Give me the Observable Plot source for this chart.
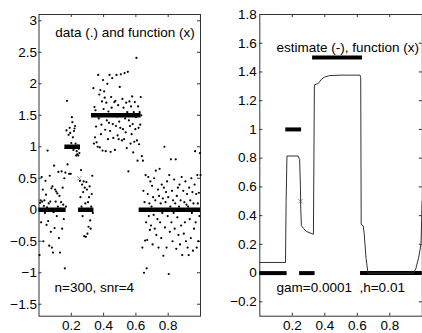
<!DOCTYPE html>
<html>
<head>
<meta charset="utf-8">
<script src="https://cdn.jsdelivr.net/npm/d3@7"></script>
<script src="https://cdn.jsdelivr.net/npm/@observablehq/plot@0.6"></script>
<style>
  html, body { margin: 0; padding: 0; background: white; overflow: hidden; width: 422px; height: 333px; }
  #left, #right { position: absolute; top: 0; }
  #left { left: 0; }
  #right { left: 211px; }
  svg { max-width: none !important; }
</style>
</head>
<body>
<div id="left"></div>
<div id="right"></div>
<script>
// ---- data ----
const n = 300;
// noisy observations, in order of x = i/300
const segA = [-0.72, 0.11, 0.15, -0.2, 0.52, 0.13, 0.32, -0.5, 0.06, 0.15, -0.05, 0.46,
  0.24, -0.24, 0.04, 0.94, -0.18, 0.1, -0.57, 0.54, 0.13, -0.35, 0.34, -0.6,
  0.37, -0.68, -0.04, 0.7, -0.29, 0.32, 0.13, 0.29, -0.1, 0.26, 0.05, 0.6,
  -0.45, 0.22, -0.68, 0.02, 0.12, 0.61, -0.3, 0.35, 0.08, -0.15, 0.5, -0.93, 0.59, 0.05];
const segB = [1.26, 1.73, 0.72, 1.0, 1.19, 0.57, 1.3, 1.22, 0.57, 1.06, 1.47, 1.39, 1.15,
  0.95, 1.25, 1.29, 1.33, 1.05, 0.86, 0.93, 0.88, 1.02, 0.86, 0.97, 0.9];
const segC = [0.46, 0.2, 0.63, 0.05, 0.4, -0.1, 0.28, 0.45, -0.42, 0.35, 0.1, -0.43, 0.44,
  0.32, -0.38, 0.12, -0.27, 0.2, 0.37, -0.17, -0.3, 0.05, 0.25, 0.54, -0.05];
const segD = [1.93, 1.05, 1.63, 1.15, 1.58, 1.32, 1.07, 1.5, 1.0, 2.14,
  1.45, 1.83, 0.99, 1.9, 1.2, 1.35, 1.72, 0.94, 2.06, 1.6,
  1.88, 1.78, 1.27, 0.93, 1.7, 1.42, 2.0, 1.12, 1.56, 1.38,
  2.14, 1.25, 0.92, 1.79, 1.62, 2.09, 1.36, 1.14, 1.5, 1.71,
  0.95, 1.73, 1.33, 2.14, 1.48, 1.18, 1.66, 1.12, 1.4, 1.95,
  1.3, 2.15, 1.52, 1.1, 1.76, 1.28, 1.62, 1.12, 2.17, 1.45,
  1.23, 1.7, 0.98, 1.55, 2.19, 0.61, 1.42, 1.72, 1.33, 1.05,
  1.64, 1.2, 1.8, 1.36, 0.91, 1.55, 1.08, 1.71, 1.28, 1.47,
  2.41, 1.1, 0.78, 1.64, 1.3, 1.04, 1.55, 1.35, 1.79, 1.5];
const segE = [0.85, -0.6, 0.78, 0.3, -1.0, 0.12, -0.49, 0.55, -0.2, -0.93,
  -0.48, 0.25, 0.52, -0.1, 0.1, -0.32, 0.45, -0.25, 0.05, 0.38,
  -0.55, 0.2, -0.08, 0.5, -0.3, 0.15, 0.62, -0.4, 0.0, -0.15,
  0.32, -0.6, 0.22, 0.65, -0.2, 0.1, -0.45, 0.4, -0.05, 0.18,
  -0.73, 0.35, 1.0, -0.28, 0.12, 0.28, -0.6, 0.45, -0.1, 0.2,
  -1.02, 0.55, -0.35, 0.05, 0.8, -0.2, 0.3, -0.5, 0.15, -0.05,
  0.48, -0.3, 0.1, 0.8, -0.62, 0.22, -0.12, 0.35, -0.4, 0.05,
  0.4, -0.55, 0.15, -0.25, 0.52, -0.72, 0.0, 0.3, -0.38, 0.12,
  -0.2, 0.45, -0.5, 0.08, 0.25, -0.6, 0.05, -0.72, 0.35, -0.15,
  0.15, -0.45, 0.5, -0.05, 0.28, -0.65, 0.1, -0.3, 0.4, 0.93,
  -0.2, 0.25, -0.6, 0.55, 0.1, -0.5, 0.27, -0.1, 0.9, 0.55];
const obsY = [...segA, ...segB, ...segC, ...segD, ...segE];

// step function (drawn as runs of x markers)
const funcStart = [0, 0.16, 0.245, 0.325, 0.62];
const funcEnd   = [0.168, 0.257, 0.34, 0.632, 1];
const funcValue = [0, 1, 0, 1.5, 0];
const funcMidX = [0.25], funcMidY = [0.5];

// estimate curve
const estX = [0, 0.158, 0.162, 0.167, 0.236, 0.245, 0.25, 0.252, 0.256, 0.27, 0.286, 0.33,
  0.333, 0.336, 0.36, 0.38, 0.4, 0.43, 0.5, 0.617, 0.621, 0.624, 0.636, 0.642, 0.654, 0.666,
  0.945, 0.96, 0.976, 0.992, 0.999];
const estY = [0.074, 0.074, 0.5, 0.815, 0.815, 0.79, 0.6, 0.45, 0.33, 0.31, 0.29, 0.27,
  0.8, 1.31, 1.32, 1.35, 1.365, 1.375, 1.378, 1.378, 1.36, 0.34, 0.33, 0.28, 0.1, 0.0,
  0.0, 0.03, 0.1, 0.2, 0.5];

const xTicks = [0.2, 0.4, 0.6, 0.8];
const leftYTicks = [-1.5, -1, -0.5, 0, 0.5, 1, 1.5, 2, 2.5, 3];
const rightYTicks = [-0.2, 0, 0.2, 0.4, 0.6, 0.8, 1, 1.2, 1.4, 1.6, 1.8];
const leftDomain = [-1.69, 3.1];
const rightDomain = [-0.3, 1.8];

const leftTitle = "data (.) and function (x)";
const leftNote = "n=300, snr=4";
const rightTitle = "estimate (-), function (x)";
const rightNote = "gam=0.0001  ,h=0.01";

// ---- build ----
const obs = obsY.map((y, i) => ({x: (i + 1) / n, y}));
const func = funcValue.map((v, i) => ({x1: funcStart[i], x2: funcEnd[i], y: v}));
const mid = funcMidX.map((x, i) => ({x, y: funcMidY[i]}));
const est = estX.map((x, i) => ({x, y: estY[i]}));

const font = "'Liberation Sans', Arial, Helvetica, sans-serif";
const axisColor = "#333";
const fs = 13.5;
const fmt = d3.format("~g");

function frameTicks(yTicks, domain, pxPerUnitY, pxPerUnitX) {
  const tx = 3 / pxPerUnitX, ty = 3 / pxPerUnitY;
  return [
    Plot.ruleY(yTicks, {x1: 0, x2: tx, stroke: axisColor}),
    Plot.ruleY(yTicks, {x1: 1 - tx, x2: 1, stroke: axisColor}),
    Plot.ruleX(xTicks, {y1: domain[0], y2: domain[0] + ty, stroke: axisColor}),
    Plot.ruleX(xTicks, {y1: domain[1] - ty, y2: domain[1], stroke: axisColor}),
    Plot.frame({stroke: axisColor})
  ];
}

const left = Plot.plot({
  width: 211, height: 333,
  marginLeft: 38.5, marginRight: 11, marginTop: 14, marginBottom: 17.3,
  style: {fontFamily: font, fontSize: fs + "px", background: "white", color: "black"},
  x: {domain: [0, 1]},
  y: {domain: leftDomain},
  marks: [
    Plot.axisY(leftYTicks, {tickSize: 0, tickPadding: 2, label: null, fontSize: fs, tickFormat: fmt}),
    Plot.axisX(xTicks, {tickSize: 0, tickPadding: 4, label: null, fontSize: fs, tickFormat: fmt}),
    ...frameTicks(leftYTicks, leftDomain, 63.1, 161.5),
    Plot.dot(obs, {x: "x", y: "y", r: 1.1, fill: "black", stroke: null}),
    Plot.ruleY(func, {x1: "x1", x2: "x2", y: "y", stroke: "black", strokeWidth: 4.5}),
    Plot.dot(mid, {x: "x", y: "y", symbol: "times", r: 2.2, stroke: "#888", strokeWidth: 0.8}),
    Plot.text([leftTitle], {x: 0.1, y: 2.81, text: d => d, textAnchor: "start", fontSize: fs, fill: "black"}),
    Plot.text([leftNote], {x: 0.096, y: -1.23, text: d => d, textAnchor: "start", fontSize: fs, fill: "black"})
  ]
});
document.getElementById("left").append(left);

const right = Plot.plot({
  width: 222, height: 333,
  marginLeft: 48.3, marginRight: 11.2, marginTop: 14, marginBottom: 17.3,
  style: {fontFamily: font, fontSize: fs + "px", background: "white", color: "black"},
  x: {domain: [0, 1]},
  y: {domain: rightDomain},
  marks: [
    Plot.axisY(rightYTicks, {tickSize: 0, tickPadding: 3, label: null, fontSize: fs, tickFormat: fmt}),
    Plot.axisX(xTicks, {tickSize: 0, tickPadding: 4, label: null, fontSize: fs, tickFormat: fmt}),
    ...frameTicks(rightYTicks, rightDomain, 143.5, 162.5),
    Plot.ruleY(func, {x1: "x1", x2: "x2", y: "y", stroke: "black", strokeWidth: 4}),
    Plot.dot(mid, {x: "x", y: "y", symbol: "times", r: 2.2, stroke: "#888", strokeWidth: 0.8}),
    Plot.line(est, {x: "x", y: "y", stroke: "#333", strokeWidth: 1}),
    Plot.text([rightTitle], {x: 0.103, y: 1.57, text: d => d, textAnchor: "start", fontSize: fs, fill: "black"}),
    Plot.text([rightNote], {x: 0.103, y: -0.1, text: d => d, textAnchor: "start", fontSize: fs, fill: "black"})
  ]
});
document.getElementById("right").append(right);
</script>
</body>
</html>
